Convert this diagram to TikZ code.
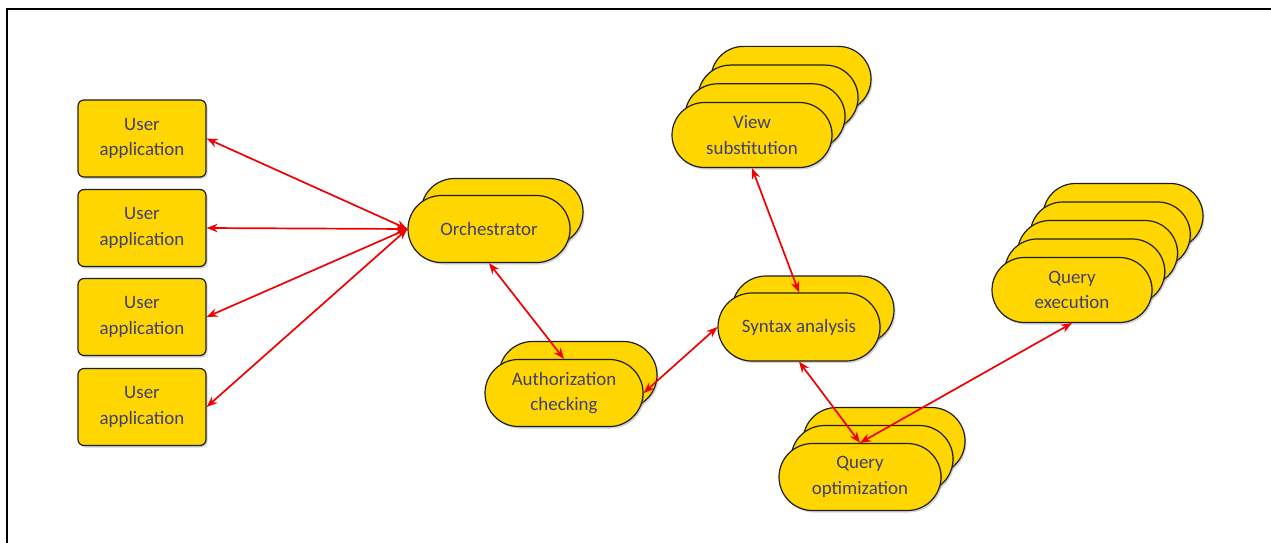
\documentclass[tikz,border=0pt]{standalone}
\usepackage{fontspec}
\setmainfont{Carlito}
\usetikzlibrary{shapes.misc,shadows,arrows.meta}
\definecolor{gold}{RGB}{255,214,0}
\definecolor{txt}{RGB}{64,64,112}
\definecolor{arr}{RGB}{240,0,0}
\definecolor{edge}{RGB}{30,30,30}
\begin{document}
\begin{tikzpicture}[x=1pt,y=-1pt,
  base/.style={draw=edge, line width=1.2pt, fill=gold, inner sep=0pt, text=txt,
    font=\fontsize{18.9}{25.5}\selectfont, align=center,
    drop shadow={shadow xshift=1.5pt, shadow yshift=-2pt, opacity=0.35}},
  box/.style={base, rounded corners=6pt, minimum width=128pt, minimum height=77pt},
  pill/.style={base, rounded rectangle, minimum width=#1, minimum height=66pt},
  pill/.default=160pt,
  link/.style={draw=arr, line width=1.7pt, {Stealth[length=11pt,width=8.5pt]}-{Stealth[length=11pt,width=8.5pt]}}
]
\useasboundingbox (0,0) rectangle (1271,543);
\draw[line width=2pt] (7,543) -- (7,9) -- (1271,9);

% user applications
\node[box] (ua1) at (142,138.5) {User\\application};
\node[box] (ua2) at (142,228) {User\\application};
\node[box] (ua3) at (142,317) {User\\application};
\node[box] (ua4) at (142,407) {User\\application};

% orchestrator
\node[pill=162pt, minimum height=67pt] (orchb) at (502,212) {};
\node[pill=162pt, minimum height=67pt] (orch) at (489,229) {Orchestrator};

% authorization checking
\node[pill=158pt, minimum height=67pt] (authb) at (578,375) {};
\node[pill=158pt, minimum height=67pt] (auth) at (564,393) {Authorization\\checking};

% syntax analysis
\node[pill=162pt, minimum height=68pt] (synb) at (813,310) {};
\node[pill=162pt, minimum height=68pt] (syn) at (799,327) {Syntax analysis};

% view substitution
\foreach \k in {3,2,1}{
  \node[pill=160pt, minimum height=65pt] (vs\k) at ({752+13*\k},{135-18.7*\k}) {};
}
\node[pill=160pt, minimum height=65pt] (vs) at (752,135) {View\\substitution};

% query execution
\foreach \k in {4,3,2,1}{
  \node[pill=160pt, minimum height=65pt] (qe\k) at ({1072+12.75*\k},{290-18.5*\k}) {};
}
\node[pill=160pt, minimum height=65pt] (qe) at (1072,290) {Query\\execution};

% query optimization
\foreach \k in {2,1}{
  \node[pill=162pt, minimum height=67pt] (qo\k) at ({860+12*\k},{477-18*\k}) {};
}
\node[pill=162pt, minimum height=67pt] (qo) at (860,477) {Query\\optimization};

% connectors
\draw[link] (ua1.east) -- (orch.west);
\draw[link] (ua2.east) -- (orch.west);
\draw[link] (ua3.east) -- (orch.west);
\draw[link] (ua4.east) -- (orch.west);
\draw[link] (orch.south) -- (auth.north);
\draw[link] (auth.east) -- (syn.west);
\draw[link] (vs.south) -- (syn.north);
\draw[link] (syn.south) -- (qo.north);
\draw[link] (qo.north) -- (qe.south);
\end{tikzpicture}
\end{document}
